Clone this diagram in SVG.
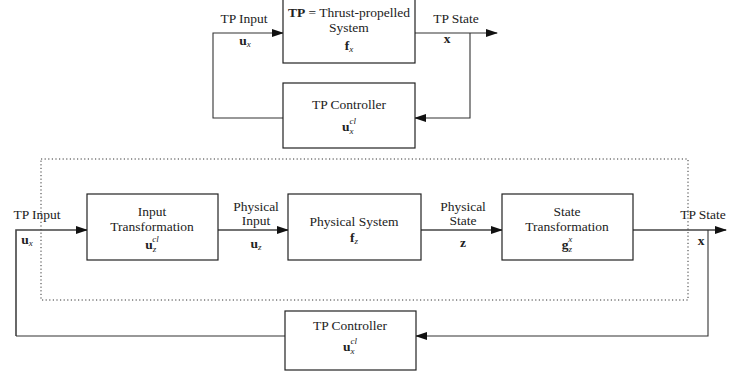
<svg xmlns="http://www.w3.org/2000/svg" width="730" height="378" viewBox="0 0 730 378" font-family="'Liberation Serif', 'DejaVu Serif', serif">
<style>
text{font-family:'Liberation Serif','DejaVu Serif',serif;font-size:13.5px;fill:#222;text-anchor:middle}
.b{font-weight:bold}
.s{font-style:italic;font-size:9px}
.box{fill:#fff;stroke:#222;stroke-width:1.2}
.c{fill:none;stroke:#444;stroke-width:1.6}
.t{fill:none;stroke:#333;stroke-width:1.1}
.dot{fill:none;stroke:#333;stroke-width:1;stroke-dasharray:1.2 2.4}
</style>
<defs>
<marker id="ah" markerWidth="12" markerHeight="8" refX="11" refY="4" orient="auto" markerUnits="userSpaceOnUse">
<path d="M0,0 L12,4 L0,8 z" fill="#111"/>
</marker>
</defs>
<rect class="dot" x="41" y="159" width="647" height="141"/>
<g id="connectors">
<polyline class="t" points="283,118 213,118 213,33 283,33" marker-end="url(#ah)"/>
<line class="t" x1="415" y1="33" x2="497" y2="33" marker-end="url(#ah)"/>
<polyline class="t" points="470,33 470,118 415,118" marker-end="url(#ah)"/>
<polyline class="c" points="16,336 16,230 87,230" marker-end="url(#ah)"/>
<line class="c" x1="218" y1="230" x2="288" y2="230" marker-end="url(#ah)"/>
<line class="c" x1="421" y1="230" x2="502" y2="230" marker-end="url(#ah)"/>
<line class="c" x1="633" y1="230" x2="726" y2="230" marker-end="url(#ah)"/>
<polyline class="t" points="708,230 708,336 416,336" marker-end="url(#ah)"/>
<line class="t" x1="16" y1="336" x2="285" y2="336"/>
</g>
<g id="tp-system">
<rect class="box" x="283" y="-1" width="132" height="64"/>
<text x="349" y="17"><tspan class="b">TP</tspan> = Thrust-propelled</text>
<text x="349" y="32">System</text>
<text x="349" y="50"><tspan class="b">f</tspan><tspan class="s" dy="2">x</tspan></text>
</g>
<g id="tp-controller-top">
<rect class="box" x="283" y="83" width="132" height="65"/>
<text x="349" y="109">TP Controller</text>
<text x="349" y="131"><tspan class="b">u</tspan><tspan class="s" dy="3">x</tspan><tspan class="s" dx="-4" dy="-10">cl</tspan></text>
</g>
<g id="top-labels">
<text x="244" y="23">TP Input</text>
<text x="245" y="45"><tspan class="b">u</tspan><tspan class="s" dy="2">x</tspan></text>
<text x="456" y="23">TP State</text>
<text x="447" y="43" class="b">x</text>
</g>
<g id="input-transformation">
<rect class="box" x="87" y="194" width="131" height="66"/>
<text x="152" y="216">Input</text>
<text x="152" y="231">Transformation</text>
<text x="152" y="249"><tspan class="b">u</tspan><tspan class="s" dy="3">z</tspan><tspan class="s" dx="-4" dy="-10">cl</tspan></text>
</g>
<g id="physical-system">
<rect class="box" x="288" y="194" width="133" height="66"/>
<text x="354" y="226">Physical System</text>
<text x="354" y="242"><tspan class="b">f</tspan><tspan class="s" dy="2">z</tspan></text>
</g>
<g id="state-transformation">
<rect class="box" x="502" y="194" width="131" height="66"/>
<text x="567" y="216">State</text>
<text x="567" y="231">Transformation</text>
<text x="567" y="249"><tspan class="b">g</tspan><tspan class="s" dy="3">z</tspan><tspan class="s" dx="-4" dy="-10">x</tspan></text>
</g>
<g id="tp-controller-bottom">
<rect class="box" x="285" y="311" width="131" height="59"/>
<text x="350" y="330">TP Controller</text>
<text x="350" y="351"><tspan class="b">u</tspan><tspan class="s" dy="3">x</tspan><tspan class="s" dx="-4" dy="-10">cl</tspan></text>
</g>
<g id="mid-labels">
<text x="37" y="219">TP Input</text>
<text x="27" y="244"><tspan class="b">u</tspan><tspan class="s" dy="2">x</tspan></text>
<text x="256" y="211">Physical</text>
<text x="256" y="225">Input</text>
<text x="256" y="248"><tspan class="b">u</tspan><tspan class="s" dy="2">z</tspan></text>
<text x="463" y="211">Physical</text>
<text x="463" y="225">State</text>
<text x="463" y="247" class="b">z</text>
<text x="703" y="219">TP State</text>
<text x="701" y="245" class="b">x</text>
</g>
</svg>
